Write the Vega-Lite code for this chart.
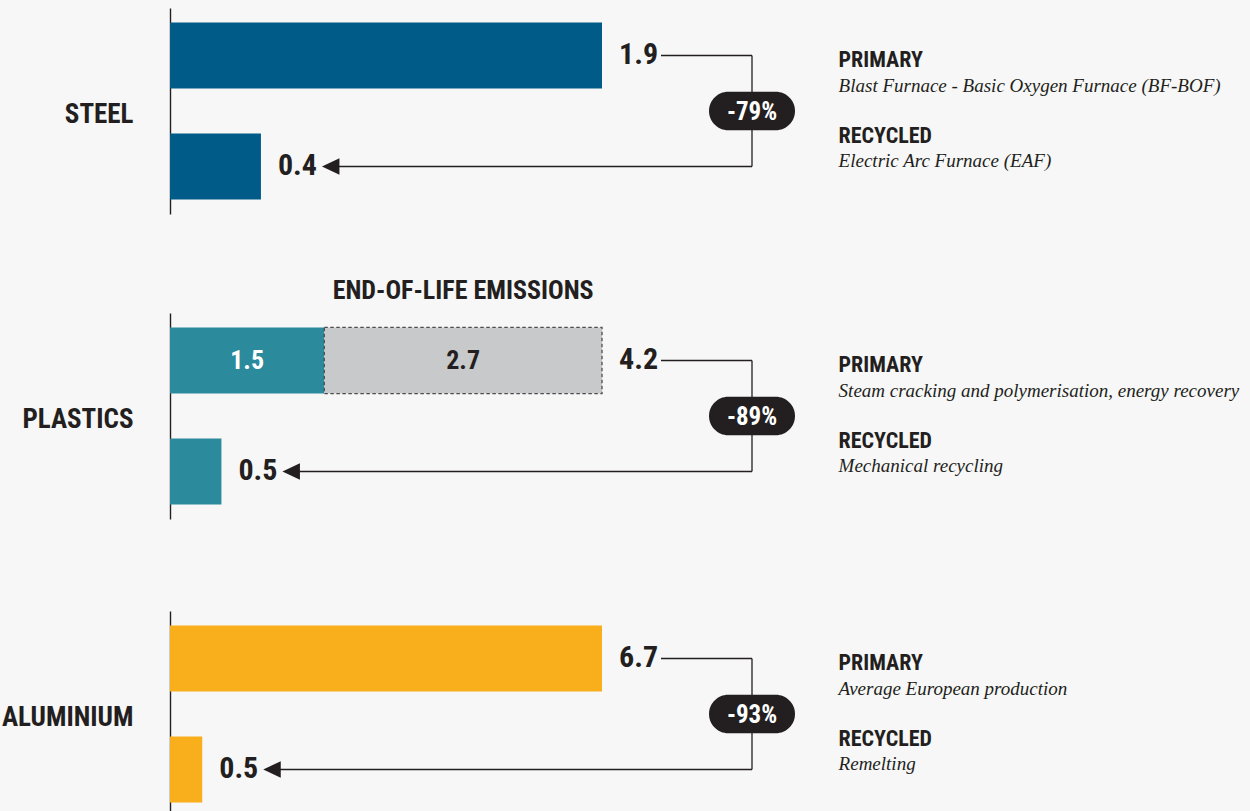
{
  "$schema": "https://vega.github.io/schema/vega-lite/v6.json",
  "background": "#f7f7f7",
  "padding": {"left": 1, "top": 8, "right": 15, "bottom": 0},
  "datasets": {
    "bars": [
      {"material": "Steel", "type": "PRIMARY", "segment": "PRODUCTION", "value": 1.9},
      {"material": "Steel", "type": "RECYCLED", "segment": "PRODUCTION", "value": 0.4},
      {"material": "Plastics", "type": "PRIMARY", "segment": "PRODUCTION", "value": 1.5},
      {"material": "Plastics", "type": "PRIMARY", "segment": "END-OF-LIFE EMISSIONS", "value": 2.7},
      {"material": "Plastics", "type": "RECYCLED", "segment": "PRODUCTION", "value": 0.5},
      {"material": "Aluminium", "type": "PRIMARY", "segment": "PRODUCTION", "value": 6.7},
      {"material": "Aluminium", "type": "RECYCLED", "segment": "PRODUCTION", "value": 0.5}
    ],
    "routes": [
      {"material": "Steel", "type": "PRIMARY", "route": "Blast Furnace - Basic Oxygen Furnace (BF-BOF)"},
      {"material": "Steel", "type": "RECYCLED", "route": "Electric Arc Furnace (EAF)"},
      {"material": "Plastics", "type": "PRIMARY", "route": "Steam cracking and polymerisation, energy recovery"},
      {"material": "Plastics", "type": "RECYCLED", "route": "Mechanical recycling"},
      {"material": "Aluminium", "type": "PRIMARY", "route": "Average European production"},
      {"material": "Aluminium", "type": "RECYCLED", "route": "Remelting"}
    ],
    "changes": [
      {"material": "Steel", "change": "-79%"},
      {"material": "Plastics", "change": "-89%"},
      {"material": "Aluminium", "change": "-93%"}
    ]
  },
  "spacing": 99,
  "bounds": "flush",
  "resolve": {"scale": {"color": "independent"}},
  "vconcat": [
    {
      "width": 582, "height": 206,
      "layer": [
        {
          "data": {"name": "bars"},
          "transform": [{"filter": "datum.material === 'Steel'"}, {"stack": "value", "groupby": ["type"], "sort": [{"field": "segment", "order": "descending"}], "as": ["x0", "x1"]}],
          "mark": {"type": "bar", "strokeDash": [3.5, 2.5], "strokeWidth": 1.3},
          "encoding": {
            "y": {"field": "type", "type": "nominal", "scale": {"paddingInner": 0.404, "paddingOuter": 0.13}, "axis": {"title": "STEEL", "labels": false, "ticks": false, "grid": false, "domainColor": "#231f20", "domainWidth": 1.4, "titleAngle": 0, "titleAlign": "right", "titleBaseline": "alphabetic", "titleX": -37, "titleY": 114.3, "titleFont": "Roboto Condensed, Liberation Sans Narrow, DejaVu Sans Condensed, Arial Narrow, sans-serif", "titleFontSize": 27, "titleFontWeight": "bold", "titleColor": "#231f20"}},
            "x": {"field": "x0", "type": "quantitative", "scale": {"range": [0, 432], "nice": false, "zero": true}, "axis": null},
            "x2": {"field": "x1"},
            "color": {"field": "segment", "type": "nominal", "scale": {"domain": ["PRODUCTION", "END-OF-LIFE EMISSIONS"], "range": ["#005b88", "#c8c9cb"]}, "legend": null},
            "stroke": {"condition": {"test": "datum.segment === 'END-OF-LIFE EMISSIONS'", "value": "#4d4d4f"}, "value": "transparent"}
          }
        },
        {
          "data": {"name": "bars"},
          "transform": [{"filter": "datum.material === 'Steel'"}],
          "mark": {"type": "text", "align": "left", "baseline": "alphabetic", "dx": 17, "dy": 8.5, "font": "Roboto Condensed, Liberation Sans Narrow, DejaVu Sans Condensed, Arial Narrow, sans-serif", "fontSize": 30, "fontWeight": "bold", "color": "#231f20"},
          "encoding": {
            "y": {"field": "type", "type": "nominal"},
            "x": {"aggregate": "sum", "field": "value", "type": "quantitative", "axis": null},
            "text": {"aggregate": "sum", "field": "value", "type": "quantitative", "format": ".1f"}
          }
        },
        {
          "data": {"name": "bars"},
          "transform": [{"filter": "datum.material === 'Steel' && datum.type === 'PRIMARY'"}],
          "mark": {"type": "rule", "xOffset": 59, "color": "#231f20", "strokeWidth": 1.3},
          "encoding": {
            "y": {"field": "type", "type": "nominal"},
            "x": {"aggregate": "sum", "field": "value", "type": "quantitative", "axis": null},
            "x2": {"value": "width"}
          }
        },
        {
          "data": {"name": "bars"},
          "transform": [{"filter": "datum.material === 'Steel' && datum.type === 'RECYCLED'"}],
          "mark": {"type": "rule", "xOffset": 70, "color": "#231f20", "strokeWidth": 1.3},
          "encoding": {
            "y": {"field": "type", "type": "nominal"},
            "x": {"aggregate": "sum", "field": "value", "type": "quantitative", "axis": null},
            "x2": {"value": "width"}
          }
        },
        {
          "data": {"name": "routes"},
          "transform": [{"filter": "datum.material === 'Steel'"}],
          "mark": {"type": "line", "color": "#231f20", "strokeWidth": 1.3},
          "encoding": {"x": {"value": "width"}, "y": {"field": "type", "type": "nominal"}}
        },
        {
          "data": {"name": "bars"},
          "transform": [{"filter": "datum.material === 'Steel' && datum.type === 'RECYCLED'"}],
          "mark": {"type": "point", "shape": "M0,0L1.75,-0.83L1.75,0.83Z", "size": 400, "filled": true, "opacity": 1, "color": "#231f20", "strokeWidth": 0, "xOffset": 61},
          "encoding": {
            "y": {"field": "type", "type": "nominal"},
            "x": {"aggregate": "sum", "field": "value", "type": "quantitative", "axis": null}
          }
        },
        {
          "data": {"name": "changes"},
          "transform": [{"filter": "datum.material === 'Steel'"}],
          "mark": {"type": "point", "shape": "M-0.5523,-0.4477L0.5523,-0.4477C0.7996,-0.4477,1,-0.2473,1,0C1,0.2473,0.7996,0.4477,0.5523,0.4477L-0.5523,0.4477C-0.7996,0.4477,-1,0.2473,-1,0C-1,-0.2473,-0.7996,-0.4477,-0.5523,-0.4477Z", "size": 7396, "filled": true, "opacity": 1, "color": "#231f20", "strokeWidth": 0, "yOffset": 55.5},
          "encoding": {"x": {"value": "width"}, "y": {"datum": "PRIMARY", "type": "nominal"}}
        },
        {
          "data": {"name": "changes"},
          "transform": [{"filter": "datum.material === 'Steel'"}],
          "mark": {"type": "text", "align": "center", "baseline": "alphabetic", "dy": 64.4, "font": "Roboto Condensed, Liberation Sans Narrow, DejaVu Sans Condensed, Arial Narrow, sans-serif", "fontSize": 25, "fontWeight": "bold", "color": "#ffffff"},
          "encoding": {"x": {"value": "width"}, "y": {"datum": "PRIMARY", "type": "nominal"}, "text": {"field": "change"}}
        },
        {
          "data": {"name": "routes"},
          "transform": [{"filter": "datum.material === 'Steel'"}],
          "mark": {"type": "text", "align": "left", "baseline": "alphabetic", "dx": 86.6, "dy": {"expr": "datum.type === 'PRIMARY' ? 11.7 : -23.7"}, "font": "Roboto Condensed, Liberation Sans Narrow, DejaVu Sans Condensed, Arial Narrow, sans-serif", "fontSize": 22, "fontWeight": "bold", "color": "#231f20"},
          "encoding": {"x": {"value": "width"}, "y": {"field": "type", "type": "nominal"}, "text": {"field": "type"}}
        },
        {
          "data": {"name": "routes"},
          "transform": [{"filter": "datum.material === 'Steel'"}],
          "mark": {"type": "text", "align": "left", "baseline": "alphabetic", "dx": 86.6, "dy": {"expr": "datum.type === 'PRIMARY' ? 36.7 : 1"}, "font": "Liberation Serif, serif", "fontSize": 19, "fontStyle": "italic", "color": "#231f20"},
          "encoding": {"x": {"value": "width"}, "y": {"field": "type", "type": "nominal"}, "text": {"field": "route"}}
        }
      ]
    },
    {
      "spacing": 92,
      "bounds": "flush",
      "resolve": {"scale": {"color": "independent"}},
      "vconcat": [
        {
          "width": 582, "height": 206,
          "layer": [
            {
              "data": {"name": "bars"},
              "transform": [{"filter": "datum.material === 'Plastics'"}, {"stack": "value", "groupby": ["type"], "sort": [{"field": "segment", "order": "descending"}], "as": ["x0", "x1"]}],
              "mark": {"type": "bar", "strokeDash": [3.5, 2.5], "strokeWidth": 1.3},
              "encoding": {
                "y": {"field": "type", "type": "nominal", "scale": {"paddingInner": 0.404, "paddingOuter": 0.13}, "axis": {"title": "PLASTICS", "labels": false, "ticks": false, "grid": false, "domainColor": "#231f20", "domainWidth": 1.4, "titleAngle": 0, "titleAlign": "right", "titleBaseline": "alphabetic", "titleX": -37, "titleY": 114.3, "titleFont": "Roboto Condensed, Liberation Sans Narrow, DejaVu Sans Condensed, Arial Narrow, sans-serif", "titleFontSize": 27, "titleFontWeight": "bold", "titleColor": "#231f20"}},
                "x": {"field": "x0", "type": "quantitative", "scale": {"range": [0, 432], "nice": false, "zero": true}, "axis": null},
                "x2": {"field": "x1"},
                "color": {"field": "segment", "type": "nominal", "scale": {"domain": ["PRODUCTION", "END-OF-LIFE EMISSIONS"], "range": ["#2b8a9c", "#c8c9cb"]}, "legend": null},
                "stroke": {"condition": {"test": "datum.segment === 'END-OF-LIFE EMISSIONS'", "value": "#4d4d4f"}, "value": "transparent"}
              }
            },
            {
              "data": {"name": "bars"},
              "transform": [{"filter": "datum.material === 'Plastics'"}, {"stack": "value", "groupby": ["type"], "sort": [{"field": "segment", "order": "descending"}], "as": ["x0", "x1"]}, {"filter": "datum.type === 'PRIMARY'"}, {"fold": ["x0", "x1"], "as": ["edge", "pos"]}],
              "mark": {"type": "text", "align": "center", "baseline": "alphabetic", "dy": 8.5, "font": "Roboto Condensed, Liberation Sans Narrow, DejaVu Sans Condensed, Arial Narrow, sans-serif", "fontSize": 26, "fontWeight": "bold"},
              "encoding": {
                "y": {"field": "type", "type": "nominal"},
                "x": {"aggregate": "mean", "field": "pos", "type": "quantitative", "axis": null},
                "detail": {"field": "segment"},
                "text": {"field": "value", "type": "quantitative", "format": ".1f"},
                "color": {"condition": {"test": "datum.segment === 'PRODUCTION'", "value": "#ffffff"}, "value": "#231f20"}
              }
            },
            {
              "data": {"name": "bars"},
              "transform": [{"filter": "datum.material === 'Plastics'"}, {"stack": "value", "groupby": ["type"], "sort": [{"field": "segment", "order": "descending"}], "as": ["x0", "x1"]}, {"filter": "datum.segment === 'END-OF-LIFE EMISSIONS'"}, {"fold": ["x0", "x1"], "as": ["edge", "pos"]}],
              "mark": {"type": "text", "align": "center", "baseline": "alphabetic", "dy": -61.5, "font": "Roboto Condensed, Liberation Sans Narrow, DejaVu Sans Condensed, Arial Narrow, sans-serif", "fontSize": 26, "fontWeight": "bold", "color": "#231f20"},
              "encoding": {
                "y": {"field": "type", "type": "nominal"},
                "x": {"aggregate": "mean", "field": "pos", "type": "quantitative", "axis": null},
                "text": {"field": "segment"}
              }
            },
            {
              "data": {"name": "bars"},
              "transform": [{"filter": "datum.material === 'Plastics'"}],
              "mark": {"type": "text", "align": "left", "baseline": "alphabetic", "dx": 17, "dy": 8.5, "font": "Roboto Condensed, Liberation Sans Narrow, DejaVu Sans Condensed, Arial Narrow, sans-serif", "fontSize": 30, "fontWeight": "bold", "color": "#231f20"},
              "encoding": {
                "y": {"field": "type", "type": "nominal"},
                "x": {"aggregate": "sum", "field": "value", "type": "quantitative", "axis": null},
                "text": {"aggregate": "sum", "field": "value", "type": "quantitative", "format": ".1f"}
              }
            },
            {
              "data": {"name": "bars"},
              "transform": [{"filter": "datum.material === 'Plastics' && datum.type === 'PRIMARY'"}],
              "mark": {"type": "rule", "xOffset": 59, "color": "#231f20", "strokeWidth": 1.3},
              "encoding": {
                "y": {"field": "type", "type": "nominal"},
                "x": {"aggregate": "sum", "field": "value", "type": "quantitative", "axis": null},
                "x2": {"value": "width"}
              }
            },
            {
              "data": {"name": "bars"},
              "transform": [{"filter": "datum.material === 'Plastics' && datum.type === 'RECYCLED'"}],
              "mark": {"type": "rule", "xOffset": 70, "color": "#231f20", "strokeWidth": 1.3},
              "encoding": {
                "y": {"field": "type", "type": "nominal"},
                "x": {"aggregate": "sum", "field": "value", "type": "quantitative", "axis": null},
                "x2": {"value": "width"}
              }
            },
            {
              "data": {"name": "routes"},
              "transform": [{"filter": "datum.material === 'Plastics'"}],
              "mark": {"type": "line", "color": "#231f20", "strokeWidth": 1.3},
              "encoding": {"x": {"value": "width"}, "y": {"field": "type", "type": "nominal"}}
            },
            {
              "data": {"name": "bars"},
              "transform": [{"filter": "datum.material === 'Plastics' && datum.type === 'RECYCLED'"}],
              "mark": {"type": "point", "shape": "M0,0L1.75,-0.83L1.75,0.83Z", "size": 400, "filled": true, "opacity": 1, "color": "#231f20", "strokeWidth": 0, "xOffset": 61},
              "encoding": {
                "y": {"field": "type", "type": "nominal"},
                "x": {"aggregate": "sum", "field": "value", "type": "quantitative", "axis": null}
              }
            },
            {
              "data": {"name": "changes"},
              "transform": [{"filter": "datum.material === 'Plastics'"}],
              "mark": {"type": "point", "shape": "M-0.5523,-0.4477L0.5523,-0.4477C0.7996,-0.4477,1,-0.2473,1,0C1,0.2473,0.7996,0.4477,0.5523,0.4477L-0.5523,0.4477C-0.7996,0.4477,-1,0.2473,-1,0C-1,-0.2473,-0.7996,-0.4477,-0.5523,-0.4477Z", "size": 7396, "filled": true, "opacity": 1, "color": "#231f20", "strokeWidth": 0, "yOffset": 55.5},
              "encoding": {"x": {"value": "width"}, "y": {"datum": "PRIMARY", "type": "nominal"}}
            },
            {
              "data": {"name": "changes"},
              "transform": [{"filter": "datum.material === 'Plastics'"}],
              "mark": {"type": "text", "align": "center", "baseline": "alphabetic", "dy": 64.4, "font": "Roboto Condensed, Liberation Sans Narrow, DejaVu Sans Condensed, Arial Narrow, sans-serif", "fontSize": 25, "fontWeight": "bold", "color": "#ffffff"},
              "encoding": {"x": {"value": "width"}, "y": {"datum": "PRIMARY", "type": "nominal"}, "text": {"field": "change"}}
            },
            {
              "data": {"name": "routes"},
              "transform": [{"filter": "datum.material === 'Plastics'"}],
              "mark": {"type": "text", "align": "left", "baseline": "alphabetic", "dx": 86.6, "dy": {"expr": "datum.type === 'PRIMARY' ? 11.7 : -23.7"}, "font": "Roboto Condensed, Liberation Sans Narrow, DejaVu Sans Condensed, Arial Narrow, sans-serif", "fontSize": 22, "fontWeight": "bold", "color": "#231f20"},
              "encoding": {"x": {"value": "width"}, "y": {"field": "type", "type": "nominal"}, "text": {"field": "type"}}
            },
            {
              "data": {"name": "routes"},
              "transform": [{"filter": "datum.material === 'Plastics'"}],
              "mark": {"type": "text", "align": "left", "baseline": "alphabetic", "dx": 86.6, "dy": {"expr": "datum.type === 'PRIMARY' ? 36.7 : 1"}, "font": "Liberation Serif, serif", "fontSize": 19, "fontStyle": "italic", "color": "#231f20"},
              "encoding": {"x": {"value": "width"}, "y": {"field": "type", "type": "nominal"}, "text": {"field": "route"}}
            }
          ]
        },
        {
          "width": 582, "height": 206,
          "layer": [
            {
              "data": {"name": "bars"},
              "transform": [{"filter": "datum.material === 'Aluminium'"}, {"stack": "value", "groupby": ["type"], "sort": [{"field": "segment", "order": "descending"}], "as": ["x0", "x1"]}],
              "mark": {"type": "bar", "strokeDash": [3.5, 2.5], "strokeWidth": 1.3},
              "encoding": {
                "y": {"field": "type", "type": "nominal", "scale": {"paddingInner": 0.404, "paddingOuter": 0.13}, "axis": {"title": "ALUMINIUM", "labels": false, "ticks": false, "grid": false, "domainColor": "#231f20", "domainWidth": 1.4, "titleAngle": 0, "titleAlign": "right", "titleBaseline": "alphabetic", "titleX": -37, "titleY": 114.3, "titleFont": "Roboto Condensed, Liberation Sans Narrow, DejaVu Sans Condensed, Arial Narrow, sans-serif", "titleFontSize": 27, "titleFontWeight": "bold", "titleColor": "#231f20"}},
                "x": {"field": "x0", "type": "quantitative", "scale": {"range": [0, 432], "nice": false, "zero": true}, "axis": null},
                "x2": {"field": "x1"},
                "color": {"field": "segment", "type": "nominal", "scale": {"domain": ["PRODUCTION", "END-OF-LIFE EMISSIONS"], "range": ["#f9ae1b", "#c8c9cb"]}, "legend": null},
                "stroke": {"condition": {"test": "datum.segment === 'END-OF-LIFE EMISSIONS'", "value": "#4d4d4f"}, "value": "transparent"}
              }
            },
            {
              "data": {"name": "bars"},
              "transform": [{"filter": "datum.material === 'Aluminium'"}],
              "mark": {"type": "text", "align": "left", "baseline": "alphabetic", "dx": 17, "dy": 8.5, "font": "Roboto Condensed, Liberation Sans Narrow, DejaVu Sans Condensed, Arial Narrow, sans-serif", "fontSize": 30, "fontWeight": "bold", "color": "#231f20"},
              "encoding": {
                "y": {"field": "type", "type": "nominal"},
                "x": {"aggregate": "sum", "field": "value", "type": "quantitative", "axis": null},
                "text": {"aggregate": "sum", "field": "value", "type": "quantitative", "format": ".1f"}
              }
            },
            {
              "data": {"name": "bars"},
              "transform": [{"filter": "datum.material === 'Aluminium' && datum.type === 'PRIMARY'"}],
              "mark": {"type": "rule", "xOffset": 59, "color": "#231f20", "strokeWidth": 1.3},
              "encoding": {
                "y": {"field": "type", "type": "nominal"},
                "x": {"aggregate": "sum", "field": "value", "type": "quantitative", "axis": null},
                "x2": {"value": "width"}
              }
            },
            {
              "data": {"name": "bars"},
              "transform": [{"filter": "datum.material === 'Aluminium' && datum.type === 'RECYCLED'"}],
              "mark": {"type": "rule", "xOffset": 70, "color": "#231f20", "strokeWidth": 1.3},
              "encoding": {
                "y": {"field": "type", "type": "nominal"},
                "x": {"aggregate": "sum", "field": "value", "type": "quantitative", "axis": null},
                "x2": {"value": "width"}
              }
            },
            {
              "data": {"name": "routes"},
              "transform": [{"filter": "datum.material === 'Aluminium'"}],
              "mark": {"type": "line", "color": "#231f20", "strokeWidth": 1.3},
              "encoding": {"x": {"value": "width"}, "y": {"field": "type", "type": "nominal"}}
            },
            {
              "data": {"name": "bars"},
              "transform": [{"filter": "datum.material === 'Aluminium' && datum.type === 'RECYCLED'"}],
              "mark": {"type": "point", "shape": "M0,0L1.75,-0.83L1.75,0.83Z", "size": 400, "filled": true, "opacity": 1, "color": "#231f20", "strokeWidth": 0, "xOffset": 61},
              "encoding": {
                "y": {"field": "type", "type": "nominal"},
                "x": {"aggregate": "sum", "field": "value", "type": "quantitative", "axis": null}
              }
            },
            {
              "data": {"name": "changes"},
              "transform": [{"filter": "datum.material === 'Aluminium'"}],
              "mark": {"type": "point", "shape": "M-0.5523,-0.4477L0.5523,-0.4477C0.7996,-0.4477,1,-0.2473,1,0C1,0.2473,0.7996,0.4477,0.5523,0.4477L-0.5523,0.4477C-0.7996,0.4477,-1,0.2473,-1,0C-1,-0.2473,-0.7996,-0.4477,-0.5523,-0.4477Z", "size": 7396, "filled": true, "opacity": 1, "color": "#231f20", "strokeWidth": 0, "yOffset": 55.5},
              "encoding": {"x": {"value": "width"}, "y": {"datum": "PRIMARY", "type": "nominal"}}
            },
            {
              "data": {"name": "changes"},
              "transform": [{"filter": "datum.material === 'Aluminium'"}],
              "mark": {"type": "text", "align": "center", "baseline": "alphabetic", "dy": 64.4, "font": "Roboto Condensed, Liberation Sans Narrow, DejaVu Sans Condensed, Arial Narrow, sans-serif", "fontSize": 25, "fontWeight": "bold", "color": "#ffffff"},
              "encoding": {"x": {"value": "width"}, "y": {"datum": "PRIMARY", "type": "nominal"}, "text": {"field": "change"}}
            },
            {
              "data": {"name": "routes"},
              "transform": [{"filter": "datum.material === 'Aluminium'"}],
              "mark": {"type": "text", "align": "left", "baseline": "alphabetic", "dx": 86.6, "dy": {"expr": "datum.type === 'PRIMARY' ? 11.7 : -23.7"}, "font": "Roboto Condensed, Liberation Sans Narrow, DejaVu Sans Condensed, Arial Narrow, sans-serif", "fontSize": 22, "fontWeight": "bold", "color": "#231f20"},
              "encoding": {"x": {"value": "width"}, "y": {"field": "type", "type": "nominal"}, "text": {"field": "type"}}
            },
            {
              "data": {"name": "routes"},
              "transform": [{"filter": "datum.material === 'Aluminium'"}],
              "mark": {"type": "text", "align": "left", "baseline": "alphabetic", "dx": 86.6, "dy": {"expr": "datum.type === 'PRIMARY' ? 36.7 : 1"}, "font": "Liberation Serif, serif", "fontSize": 19, "fontStyle": "italic", "color": "#231f20"},
              "encoding": {"x": {"value": "width"}, "y": {"field": "type", "type": "nominal"}, "text": {"field": "route"}}
            }
          ]
        }
      ]
    }
  ],
  "config": {"view": {"stroke": null}}
}
